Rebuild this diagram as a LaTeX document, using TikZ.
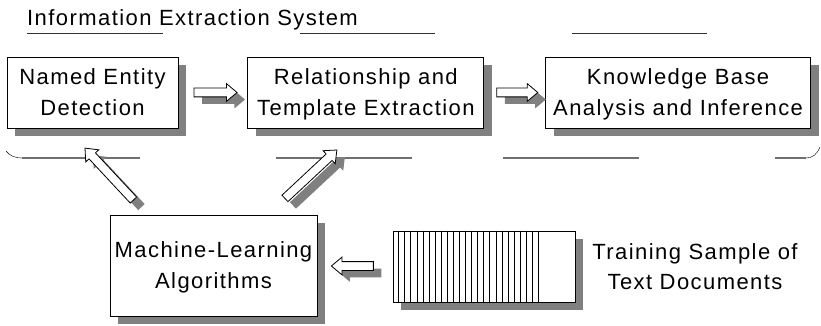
\documentclass[tikz,border=0pt]{standalone}
\usepackage{fontspec}
\setmainfont{Liberation Sans}[LetterSpace=6.5]
\usepackage{tikz}
\usetikzlibrary{
    calc,
    positioning,
    shadows,
    shapes.arrows
}
\definecolor{shadowgray}{HTML}{808080}
\definecolor{rulegray}{HTML}{707070}
\tikzstyle{stage}=[
    rectangle,
    minimum height=71pt,
    align=center,
    inner sep=0pt,
    text depth=0pt,
    draw=black,
    fill=white,
    line width=0.8pt,
    drop shadow={shadow xshift=8pt,shadow yshift=-8pt,fill=shadowgray,opacity=1}
]
\tikzstyle{bigarrow}=[
    single arrow,
    draw=black,
    fill=white,
    line width=0.8pt,
    inner xsep=0pt,
    inner ysep=4pt,
    minimum width=0pt,
    single arrow head extend=4.5pt,
    single arrow tip angle=80,
    drop shadow={shadow xshift=8pt,shadow yshift=-7pt,fill=shadowgray,opacity=1}
]

\begin{document}
\begin{tikzpicture}[
    x=1pt,y=-1pt,
    font=\fontsize{22}{31}\selectfont,
    rule/.style={line width=1.1pt,draw=rulegray}
]
\useasboundingbox (0,0) rectangle (821,326);
% title and its rules
\node[anchor=base west,inner sep=0pt] (title) at (27,26) {Information Extraction System};
\draw[line width=0.9pt,draw=black!80] (27,33) -- (163,33);
\draw[line width=0.9pt,draw=black!80] (300,33) -- (435,33);
\draw[line width=0.9pt,draw=black!80] (572,33) -- (707,33);
% stages
\node[stage,minimum width=171pt] (named) at (92.5,92.5) {Named Entity\\Detection};
\node[stage,minimum width=236pt,right=69pt of named] (relation) {Relationship and\\Template Extraction};
\node[stage,minimum width=265pt,right=61pt of relation] (knowledge) {Knowledge Base\\Analysis and Inference};
\node[stage,minimum width=207pt,minimum height=101pt] (learning) at (213.5,265.5) {Machine-Learning\\Algorithms};
\node[stage,minimum width=182pt] (docs) at (484,266.5) {};
\foreach \k in {1,...,24}
    \draw[line width=0.8pt] ($(docs.north west)+(6.08*\k,0)$) -- ($(docs.south west)+(6.08*\k,0)$);
\node[align=center,inner sep=0pt,font=\fontsize{22}{30}\selectfont] (sample) at (695,267) {Training Sample of\\Text Documents};
% bracket under the system
\draw (6,151) .. controls (10,156) and (15,158) .. (22,158);
\draw[rule] (22,158) -- (140,158);
\draw[rule] (276,158) -- (412,158);
\draw[rule] (503,158) -- (639,158);
\draw[rule] (775,158) -- (806,158);
\draw (806,158) .. controls (813,158) and (817,154) .. (820,147);
% block arrows
\node[bigarrow,minimum height=43pt] (toRelation) at ($(named.east)!0.5!(relation.west)$) {};
\node[bigarrow,minimum height=41pt] (toKnowledge) at ($(relation.east)!0.5!(knowledge.west)$) {};
\node[bigarrow,minimum height=42pt,rotate=180] (fromDocs) at ($(learning.east)!0.5!(docs.west)$) {};
\node[bigarrow,minimum height=71pt,rotate=133] (toNamed) at (111,176) {};
\node[bigarrow,minimum height=71pt,rotate=43] (toRelationUp) at (309,176) {};
\end{tikzpicture}
\end{document}
